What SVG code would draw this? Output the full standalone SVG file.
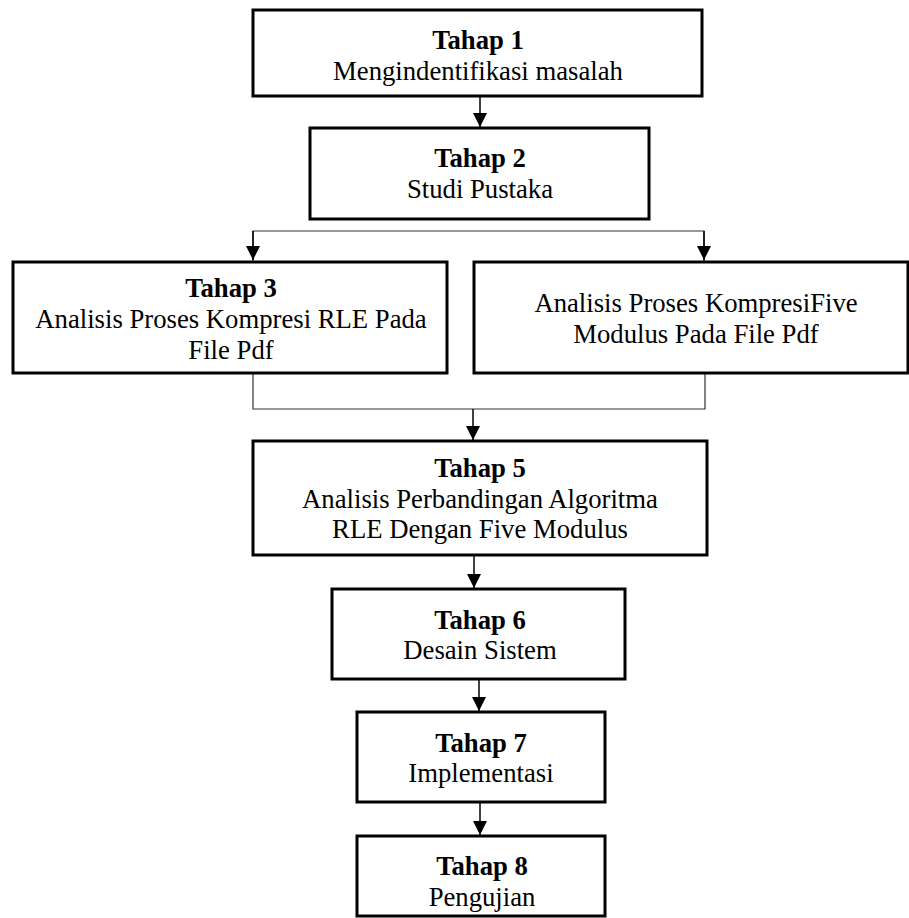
<svg xmlns="http://www.w3.org/2000/svg" width="909" height="918" viewBox="0 0 909 918">
<defs>
<marker id="ah" markerWidth="14" markerHeight="14" viewBox="0 0 14 14" refX="14" refY="7" orient="auto" markerUnits="userSpaceOnUse">
<path d="M0,0 L14,7 L0,14 Z" fill="#000"/>
</marker>
<style>
.box{fill:#fff;stroke:#000;stroke-width:3}
.t{font-family:"Liberation Serif","Times New Roman",serif;font-size:26.7px;text-anchor:middle;fill:#000}
.b{font-weight:bold}
.arr{stroke:#000;stroke-width:1.5;fill:none;marker-end:url(#ah)}
.ln{stroke:#333;stroke-width:1.2;fill:none}
</style>
</defs>
<rect width="909" height="918" fill="#fff"/>
<g id="connectors">
<line class="arr" x1="480" y1="96" x2="480" y2="127"/>
<polyline class="ln" points="253,262 253,231 704,231 704,262"/>
<line class="arr" x1="253" y1="231" x2="253" y2="260"/>
<line class="arr" x1="704" y1="231" x2="704" y2="260"/>
<polyline class="ln" points="253,373 253,409 705,409 705,373"/>
<line class="arr" x1="473" y1="409" x2="473" y2="440"/>
<line class="arr" x1="474" y1="555" x2="474" y2="588"/>
<line class="arr" x1="479" y1="679" x2="479" y2="711"/>
<line class="arr" x1="480" y1="802" x2="480" y2="835"/>
</g>
<g id="n1">
<rect class="box" x="253" y="10" width="449" height="86"/>
<text class="t b" x="478" y="49">Tahap 1</text>
<text class="t" x="478" y="80">Mengindentifikasi masalah</text>
</g>
<g id="n2">
<rect class="box" x="310" y="128" width="339" height="91"/>
<text class="t b" x="480" y="167">Tahap 2</text>
<text class="t" x="480" y="198">Studi Pustaka</text>
</g>
<g id="n3">
<rect class="box" x="13" y="262" width="434" height="111"/>
<text class="t b" x="231" y="297">Tahap 3</text>
<text class="t" x="231" y="328">Analisis Proses Kompresi RLE Pada</text>
<text class="t" x="231" y="359">File Pdf</text>
</g>
<g id="n4">
<rect class="box" x="474" y="262" width="434" height="111"/>
<text class="t" x="696" y="312">Analisis Proses KompresiFive</text>
<text class="t" x="696" y="343">Modulus Pada File Pdf</text>
</g>
<g id="n5">
<rect class="box" x="253" y="441" width="454" height="114"/>
<text class="t b" x="480" y="477">Tahap 5</text>
<text class="t" x="480" y="508">Analisis Perbandingan Algoritma</text>
<text class="t" x="480" y="538">RLE Dengan Five Modulus</text>
</g>
<g id="n6">
<rect class="box" x="332" y="589" width="293" height="90"/>
<text class="t b" x="480" y="629">Tahap 6</text>
<text class="t" x="480" y="659">Desain Sistem</text>
</g>
<g id="n7">
<rect class="box" x="357" y="712" width="248" height="90"/>
<text class="t b" x="481" y="752">Tahap 7</text>
<text class="t" x="481" y="782">Implementasi</text>
</g>
<g id="n8">
<rect class="box" x="357" y="836" width="248" height="80"/>
<text class="t b" x="482" y="875">Tahap 8</text>
<text class="t" x="482" y="906">Pengujian</text>
</g>
</svg>
